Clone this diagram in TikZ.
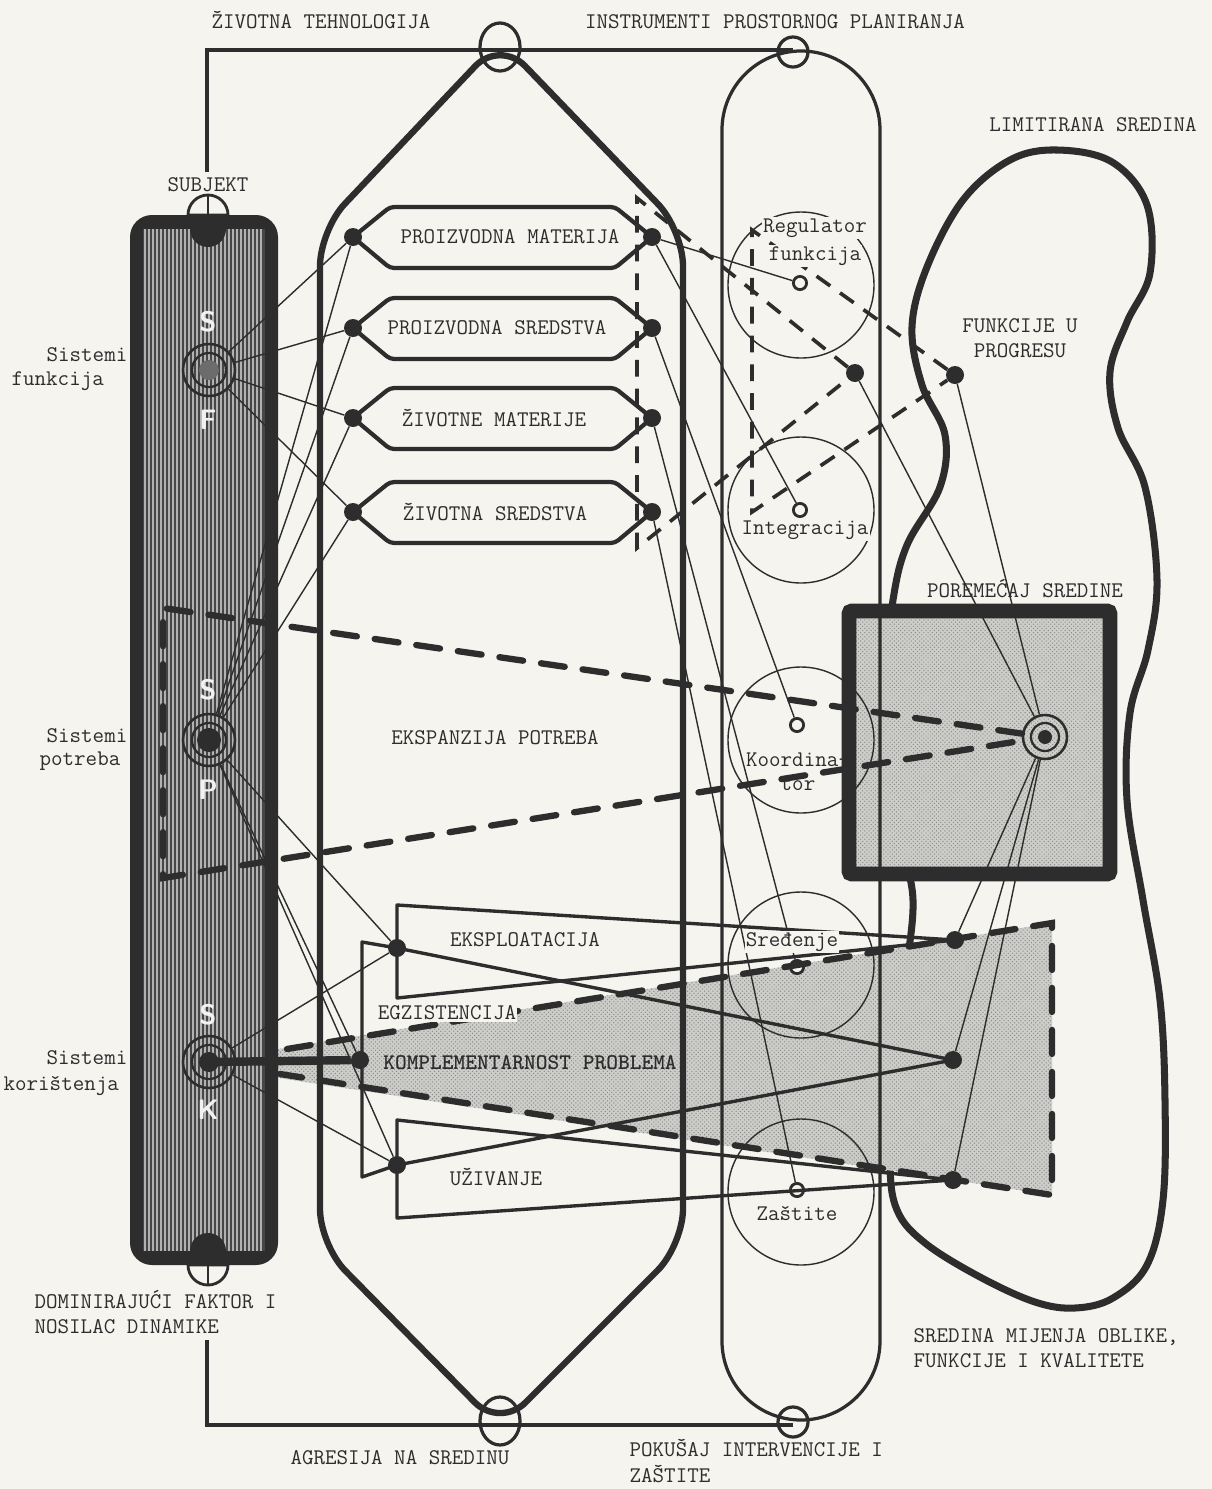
\documentclass[tikz,border=0pt]{standalone}
\usepackage{fontspec}
\usepackage{tikz}
\usetikzlibrary{positioning,patterns,calc}
\definecolor{paper}{RGB}{245,244,239}
\definecolor{ink}{RGB}{45,45,45}
\definecolor{stipple}{RGB}{205,205,201}
\definecolor{barfill}{RGB}{70,70,70}

\tikzset{
  lbl/.style={font=\ttfamily\fontsize{15.9}{18}\selectfont, text=ink, inner sep=1pt},
  wire/.style={draw=ink, line width=1pt},
  heavy/.style={draw=ink, line width=4.5pt, line join=round},
  rim/.style={draw=ink, line width=2.3pt},
  tri/.style={draw=ink, line width=2.4pt, line join=round},
  conedash/.style={draw=ink, line width=4.5pt, line cap=round, dash pattern=on 0.6cm off 0.45cm},
  middash/.style={draw=ink, line width=2.6pt, dash pattern=on 0.42cm off 0.3cm},
  dot/.style={circle, fill=ink, minimum size=0.45cm, inner sep=0pt},
  ring/.style={circle, draw=ink, line width=2pt, fill=paper, minimum size=0.33cm, inner sep=0pt},
  hub/.style={circle, draw=ink, line width=1.8pt, minimum size=1.3cm, inner sep=0pt},
  letter/.style={font=\sffamily\bfseries\fontsize{20}{24}\selectfont, text=white!90!gray},
}

\begin{document}
\begin{tikzpicture}[x=0.025cm, y=-0.025cm]
\useasboundingbox (0,0) rectangle (1212,1489);
\fill[paper] (0,0) rectangle (1212,1489);

% limitirana sredina
\draw[heavy, line width=5pt] plot[smooth cycle, tension=0.6] coordinates {
  (1057,150) (1112,162) (1147,205) (1150,273) (1127,322) (1110,372) (1118,428)
  (1145,487) (1157,580) (1148,650) (1130,713) (1127,800) (1143,900) (1160,1000)
  (1165,1100) (1163,1200) (1147,1265) (1113,1298) (1075,1308) (1035,1302)
  (980,1277) (925,1243) (897,1210) (890,1160) (895,1070) (905,980) (913,900)
  (900,840) (885,760) (885,680) (893,600) (907,545) (940,487) (945,435)
  (922,385) (912,327) (927,267) (963,200) (1010,160)};

% poremecaj sredine, komplementarnost (fills)
\fill[stipple] (849,611) rectangle (1110,874);
\fill[pattern=crosshatch dots, pattern color=ink!55] (849,611) rectangle (1110,874);
\fill[stipple] (272,1050) -- (1052,923) -- (1052,1195) -- (272,1077) -- cycle;
\fill[pattern=crosshatch dots, pattern color=ink!55] (272,1050) -- (1052,923) -- (1052,1195) -- (272,1077) -- cycle;

% ekspanzija potreba
\draw[heavy, rounded corners=0.9cm] (500,40) -- (683,230) -- (683,1245) -- (500,1428) -- (320,1245) -- (320,230) -- cycle;

% instrumenti
\draw[rim] (722,130) arc (180:360:79) -- (880,1341) arc (0:180:79) -- cycle;
\foreach \cy in {285,510,740,965,1192}
  \draw[ink, line width=1pt] (801,\cy) circle (73);

% okvir
\draw[ink, line width=2.2pt] (207,172) -- (207,50) -- (793,50);
\draw[ink, line width=2.2pt] (207,1340) -- (207,1425) -- (793,1425);
\draw[rim] (500,47) ellipse (20 and 24);
\draw[rim] (793,52) circle (15);
\draw[rim] (500,1421) ellipse (20 and 24);
\draw[rim] (793,1422) circle (15);

\draw[ink, line width=10.5pt, rounded corners=2pt] (849,611) rectangle (1110,874);

% pills
\foreach \yy/\tx/\txt/\nm in {237/510/PROIZVODNA MATERIJA/pm, 328/497/PROIZVODNA SREDSTVA/ps,
    418/494/ŽIVOTNE MATERIJE/zm, 512/495/ŽIVOTNA SREDSTVA/zs} {
  \draw[tri, line width=3pt, rounded corners=3pt] (353,\yy) -- (390,\yy-30) -- (615,\yy-30)
    -- (652,\yy) -- (615,\yy+31) -- (390,\yy+31) -- cycle;
  \node[lbl] (\nm-txt) at (\tx,\yy) {\txt};
  \node[dot] (\nm-l) at (353,\yy) {};
  \node[dot] (\nm-r) at (652,\yy) {};
}

% subjekt
\fill[ink, rounded corners=0.55cm] (130,215) rectangle (278,1265);
\fill[barfill] (143,229) rectangle (265,1251);
\foreach \x in {145,149,...,263}
  \draw[gray!60, line width=1.2pt] (\x,229) -- (\x,1251);
\fill[ink] (190,229) arc (180:0:18) -- cycle;
\fill[ink] (190,1251) arc (180:360:18) -- cycle;
\draw[ink, line width=2pt, fill=paper] (188,215) arc (180:360:20) -- cycle;
\draw[ink, line width=2pt] (208,195) -- (208,215);
\draw[ink, line width=2pt, fill=paper] (188,1265) arc (180:0:20) -- cycle;
\draw[ink, line width=2pt] (208,1265) -- (208,1285);

\node[letter] (ls1) at (208,322) {S};
\node[letter] (lf) at (208,420) {F};
\node[letter] (ls2) at (208,690) {S};
\node[letter] (lp) at (208,790) {P};
\node[letter] (ls3) at (208,1015) {S};
\node[letter] (lk) at (208,1110) {K};

\node[hub] (sf) at (209,370) {};
\draw[ink, line width=1.6pt] (sf) circle (17);
\fill[ink!70] (sf) circle (10);
\node[hub] (sp) at (209,740) {};
\draw[ink, line width=1.6pt] (sp) circle (17);
\fill[ink] (sp) circle (12);
\node[hub] (sk) at (209,1062) {};
\draw[ink, line width=1.6pt] (sk) circle (17);
\fill[ink] (sk) circle (10);

% dots
\node[dot] (eks) at (397,948) {};
\node[dot] (egz) at (360,1060) {};
\node[dot] (uz) at (397,1165) {};
\node[dot] (eksR) at (955,940) {};
\node[dot] (egzR) at (953,1060) {};
\node[dot] (uzR) at (953,1180) {};
\node[dot] (fp) at (855,373) {};
\node[dot] (fu) at (955,375) {};
\node[ring] (reg) at (800,283) {};
\node[ring] (integ) at (800,510) {};
\node[ring] (koord) at (797,725) {};
\node[ring] (sred) at (797,967) {};
\node[ring] (zast) at (797,1190) {};
\node[hub, minimum size=1.1cm] (por) at (1045,737) {};
\draw[ink, line width=1.6pt] (por) circle (14);
\fill[ink] (por) circle (7);

% triangles
\draw[tri] (397,905) -- (397,998) -- (eksR.center) -- cycle;
\draw[tri] (eks.center) -- (362,942) -- (362,1177) -- (uz.center) -- (egzR.center) -- cycle;
\draw[tri] (397,1120) -- (397,1218) -- (uzR.center) -- cycle;

% connectors
\foreach \p in {pm,ps,zm,zs} {
  \draw[wire] (sf) -- (\p-l);
  \draw[wire] (sp) -- (\p-l);
}
\foreach \q in {eks,egz,uz}
  \draw[wire] (sp) -- (\q);
\draw[wire] (sk) -- (eks);
\draw[wire] (sk) -- (uz);
\draw[ink, line width=6pt] (sk.center) -- (egz);
\draw[wire] (pm-r) -- (reg);
\draw[wire] (pm-r) -- (integ);
\draw[wire] (ps-r) -- (koord);
\draw[wire] (zm-r) -- (sred);
\draw[wire] (zs-r) -- (zast);
\draw[wire] (fp) -- (por);
\draw[wire] (fu) -- (por);
\foreach \q in {eksR,egzR,uzR}
  \draw[wire] (por) -- (\q);

% cones
\draw[middash] (fp) -- (637,198) -- (637,548) -- (fp);
\draw[middash] (fu) -- (752,230) -- (752,512) -- (fu);
\draw[conedash] (por) -- (163,608) -- (163,878) -- (por);
\draw[conedash] (287,1049) -- (1052,923) -- (1052,1195) -- (280,1074);

% labels
\node[lbl] (tteh) at (321,20) {ŽIVOTNA TEHNOLOGIJA};
\node[lbl] (tins) at (775,22) {INSTRUMENTI PROSTORNOG PLANIRANJA};
\node[lbl] (tlim) at (1093,125) {LIMITIRANA SREDINA};
\node[lbl] (tsub) at (208,185) {SUBJEKT};
\node[lbl, anchor=west] (tsf1) at (45,355) {Sistemi};
\node[lbl, anchor=west] (tsf2) at (10,381) {funkcija};
\node[lbl, anchor=west] (tsp1) at (45,736) {Sistemi};
\node[lbl, anchor=west] (tsp2) at (38,761) {potreba};
\node[lbl, anchor=west] (tsk1) at (45,1058) {Sistemi};
\node[lbl, anchor=west] (tsk2) at (2,1086) {korištenja};
\node[lbl] (teks) at (495,738) {EKSPANZIJA POTREBA};
\node[lbl, fill=paper] (treg1) at (815,228) {Regulator};
\node[lbl, fill=paper] (treg2) at (815,256) {funkcija};
\node[lbl, fill=paper] (tint) at (805,530) {Integracija};
\node[lbl, align=center] (tkoo) at (798,772) {Koordina-\\[-1pt]tor};
\node[lbl, fill=paper] (tsre) at (792,942) {Sređenje};
\node[lbl] (tzas) at (797,1213) {Zaštite};
\node[lbl, align=center] (tfun) at (1020,338) {FUNKCIJE U\\PROGRESU};
\node[lbl] (tpor) at (1025,589) {POREMEĆAJ SREDINE};
\node[lbl] (texp) at (525,940) {EKSPLOATACIJA};
\node[lbl, fill=paper] (tegz) at (447,1013) {EGZISTENCIJA};
\node[lbl, font=\ttfamily\bfseries\fontsize{15.9}{18}\selectfont] (tkom) at (530,1063) {KOMPLEMENTARNOST PROBLEMA};
\node[lbl] (tuzi) at (496,1177) {UŽIVANJE};
\node[lbl, align=left, anchor=west] (tdom) at (33,1312) {DOMINIRAJUĆI FAKTOR I\\NOSILAC DINAMIKE};
\node[lbl] (tagr) at (400,1458) {AGRESIJA NA SREDINU};
\node[lbl, align=left, anchor=west] (tpok) at (628,1461) {POKUŠAJ INTERVENCIJE I\\ZAŠTITE};
\node[lbl, align=left, anchor=west] (tsre2) at (912,1348) {SREDINA MIJENJA OBLIKE,\\FUNKCIJE I KVALITETE};
\end{tikzpicture}
\end{document}
